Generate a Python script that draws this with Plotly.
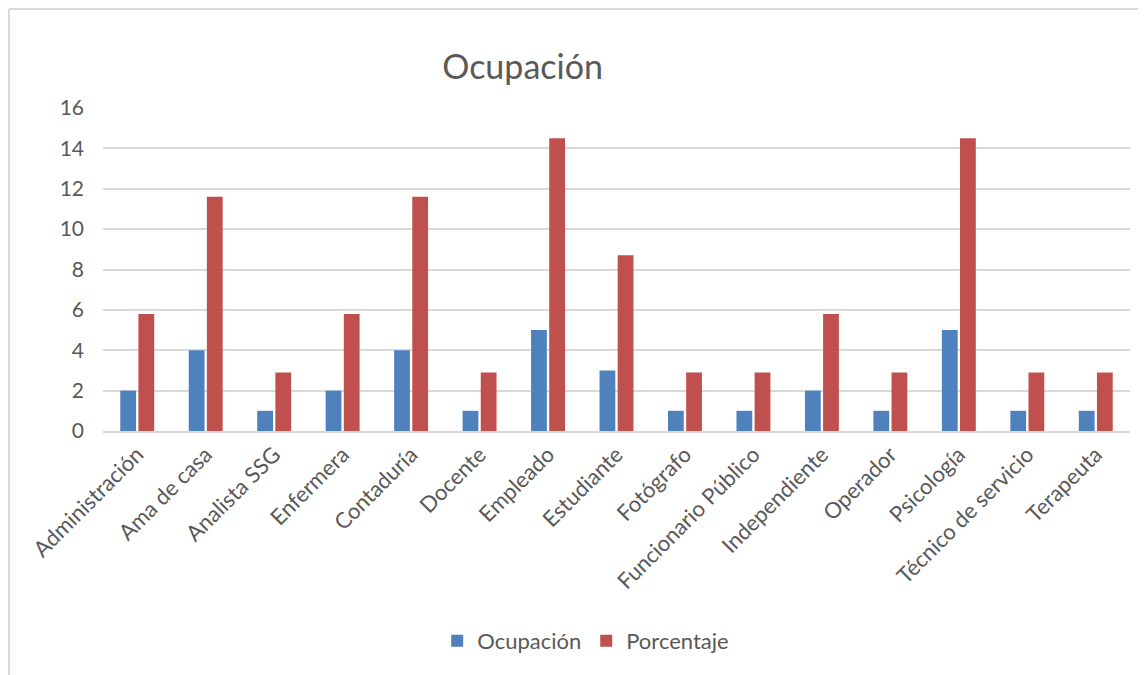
import plotly.graph_objects as go

# categories and values
categorias = [
    "Administración", "Ama de casa", "Analista SSG", "Enfermera", "Contaduría",
    "Docente", "Empleado", "Estudiante", "Fotógrafo", "Funcionario Público",
    "Independiente", "Operador", "Psicología", "Técnico de servicio", "Terapeuta",
]
ocupacion = [2, 4, 1, 2, 4, 1, 5, 3, 1, 1, 2, 1, 5, 1, 1]
porcentaje = [5.8, 11.6, 2.9, 5.8, 11.6, 2.9, 14.5, 8.7, 2.9, 2.9, 5.8, 2.9, 14.5, 2.9, 2.9]

FONT = "Lato, Open Sans, sans-serif"
GRIS = "#595959"
BORDE = "#D9D9D9"

fig = go.Figure()
fig.add_trace(go.Bar(x=categorias, y=ocupacion, name="Ocupación",
                     marker=dict(color="#4F81BD", line=dict(width=0))))
fig.add_trace(go.Bar(x=categorias, y=porcentaje, name="Porcentaje",
                     marker=dict(color="#C0504D", line=dict(width=0))))

fig.update_layout(
    width=1146, height=675,
    barmode="group", bargap=0.47, bargroupgap=0.13,
    plot_bgcolor="white", paper_bgcolor="white",
    font=dict(family=FONT, color=GRIS),
    margin=dict(l=95, r=24, t=100, b=252),
    title=dict(text="Ocupación", x=0.449, xanchor="center", y=0.913, yanchor="middle",
               font=dict(size=34, color=GRIS, family=FONT)),
    xaxis=dict(tickangle=-45, tickfont=dict(size=22, color=GRIS),
               showline=True, linecolor=BORDE, linewidth=2,
               showgrid=False, ticks=""),
    yaxis=dict(range=[0, 16], dtick=2, tickfont=dict(size=21, color=GRIS),
               showgrid=True, gridcolor=BORDE, gridwidth=2,
               zeroline=False, ticks="", ticklabelstandoff=18),
    legend=dict(orientation="h", x=0.47, xanchor="center", y=-0.65, yanchor="middle",
                font=dict(size=22, color=GRIS), itemwidth=30, traceorder="normal"),
    shapes=[
        # chart frame (top and left edges visible in the reference)
        dict(type="line", xref="paper", yref="paper", x0=-0.0915, x1=1.0097, y0=1.3065, y1=1.3065,
             line=dict(color=BORDE, width=2)),
        dict(type="line", xref="paper", yref="paper", x0=-0.0915, x1=-0.0915, y0=1.3065, y1=-0.8,
             line=dict(color=BORDE, width=2)),
    ],
)

fig.write_html("out.html")
